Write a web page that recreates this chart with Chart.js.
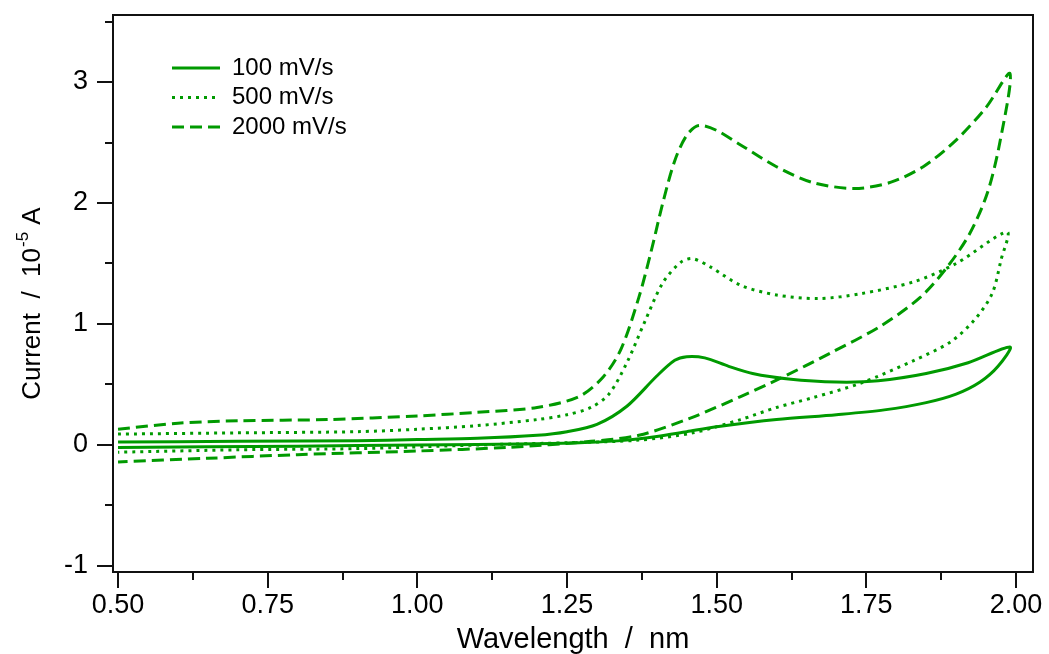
<!DOCTYPE html>
<html>
<head>
<meta charset="utf-8">
<script src="https://cdn.jsdelivr.net/npm/chart.js@4.4.0/dist/chart.umd.min.js"></script>
<style>
  html, body { margin: 0; padding: 0; background: #fff; }
</style>
</head>
<body>
<canvas id="cv" width="1049" height="654"></canvas>
<script>
// series: each loop goes forward 0.5 -> 2.0 then back to 0.5
const seriesLabels = ['100 mV/s', '500 mV/s', '2000 mV/s'];

const x100 = [0.50, 0.70, 0.90, 1.00, 1.10, 1.20, 1.25, 1.30, 1.35, 1.40, 1.43, 1.45, 1.48, 1.52, 1.56, 1.62, 1.70, 1.77, 1.85, 1.92, 1.99,
              1.97, 1.94, 1.90, 1.85, 1.78, 1.70, 1.60, 1.50, 1.45, 1.40, 1.35, 1.28, 1.20, 1.00, 0.80, 0.50];
const y100 = [0.025, 0.03, 0.035, 0.045, 0.055, 0.08, 0.11, 0.17, 0.32, 0.57, 0.70, 0.73, 0.72, 0.65, 0.59, 0.545, 0.52, 0.53, 0.59, 0.68, 0.81,
              0.65, 0.52, 0.42, 0.35, 0.29, 0.25, 0.21, 0.15, 0.11, 0.07, 0.04, 0.02, 0.01, 0.0, -0.01, -0.02];

const x500 = [0.50, 0.70, 0.90, 1.00, 1.10, 1.20, 1.25, 1.29, 1.32, 1.35, 1.38, 1.41, 1.44, 1.46, 1.49, 1.54, 1.60, 1.67, 1.74, 1.83, 1.90, 1.985,
              1.975, 1.96, 1.93, 1.89, 1.83, 1.74, 1.66, 1.60, 1.54, 1.46, 1.37, 1.26, 1.10, 0.90, 0.70, 0.50];
const y500 = [0.09, 0.10, 0.11, 0.13, 0.16, 0.21, 0.25, 0.31, 0.42, 0.68, 1.02, 1.34, 1.51, 1.54, 1.47, 1.32, 1.24, 1.21, 1.25, 1.35, 1.50, 1.76,
              1.53, 1.25, 1.03, 0.85, 0.70, 0.51, 0.39, 0.31, 0.21, 0.10, 0.04, 0.02, 0.0, -0.03, -0.04, -0.06];

const x2000 = [0.50, 0.60, 0.70, 0.85, 1.00, 1.10, 1.20, 1.27, 1.31, 1.34, 1.37, 1.39, 1.41, 1.43, 1.45, 1.47, 1.50, 1.54, 1.60, 1.66, 1.73, 1.79, 1.845, 1.90, 1.95, 1.99,
               1.973, 1.952, 1.923, 1.885, 1.84, 1.773, 1.69, 1.606, 1.54, 1.455, 1.37, 1.29, 1.15, 1.00, 0.80, 0.65, 0.50];
const y2000 = [0.13, 0.18, 0.20, 0.21, 0.24, 0.27, 0.31, 0.40, 0.56, 0.79, 1.22, 1.59, 2.00, 2.35, 2.56, 2.64, 2.60, 2.48, 2.30, 2.17, 2.12, 2.17, 2.30, 2.52, 2.79, 3.07,
               2.50, 2.08, 1.75, 1.47, 1.22, 0.98, 0.76, 0.55, 0.40, 0.22, 0.08, 0.03, -0.02, -0.05, -0.08, -0.11, -0.14];

const xTickValues = [0.50, 0.75, 1.00, 1.25, 1.50, 1.75, 2.00];
const xTickLabels = ['0.50', '0.75', '1.00', '1.25', '1.50', '1.75', '2.00'];
const yTickValues = [-1, 0, 1, 2, 3];
const yTickLabels = ['-1', '0', '1', '2', '3'];

const GREEN = '#009a00';
const FONT = '"Liberation Sans", Arial, Helvetica, sans-serif';

function pts(xs, ys) {
    return xs.map((x, i) => ({ x: x, y: ys[i] }));
}

// no extra room for overhanging labels, the box is placed by layout padding
function noPad(s) {
    s.paddingTop = 0; s.paddingBottom = 0; s.paddingLeft = 0; s.paddingRight = 0;
}

// frame, major/minor tick marks, y title with superscript, legend
const decor = {
    id: 'decor',
    afterDraw(chart) {
        const ctx = chart.ctx;
        const a = chart.chartArea;
        const xs = chart.scales.x, ys = chart.scales.y;
        ctx.save();
        ctx.strokeStyle = '#111';
        ctx.lineWidth = 2;
        ctx.setLineDash([]);
        ctx.strokeRect(a.left, a.top, a.right - a.left, a.bottom - a.top);

        ctx.beginPath();
        xTickValues.forEach(v => {
            const p = Math.round(xs.getPixelForValue(v));
            ctx.moveTo(p, a.bottom); ctx.lineTo(p, a.bottom + 16);
        });
        xTickValues.slice(0, -1).forEach(v => {
            const p = Math.round(xs.getPixelForValue(v + 0.125));
            ctx.moveTo(p, a.bottom); ctx.lineTo(p, a.bottom + 8);
        });
        yTickValues.forEach(v => {
            const p = Math.round(ys.getPixelForValue(v));
            ctx.moveTo(a.left, p); ctx.lineTo(a.left - 16, p);
            const q = Math.round(ys.getPixelForValue(v + 0.5));
            ctx.moveTo(a.left, q); ctx.lineTo(a.left - 8, q);
        });
        ctx.stroke();

        // y axis title
        ctx.fillStyle = '#000';
        ctx.translate(33, 304);
        ctx.rotate(-Math.PI / 2);
        ctx.textBaseline = 'middle';
        ctx.textAlign = 'left';
        const mainTxt = 'Current  /  10', supTxt = '-5', tailTxt = ' A';
        ctx.font = '26px ' + FONT;
        const w1 = ctx.measureText(mainTxt).width;
        const w3 = ctx.measureText(tailTxt).width;
        ctx.font = '17px ' + FONT;
        const w2 = ctx.measureText(supTxt).width;
        let x0 = -(w1 + w2 + w3) / 2;
        ctx.font = '26px ' + FONT;
        ctx.fillText(mainTxt, x0, 0);
        ctx.font = '17px ' + FONT;
        ctx.fillText(supTxt, x0 + w1 + 1, -10);
        ctx.font = '26px ' + FONT;
        ctx.fillText(tailTxt, x0 + w1 + w2 + 1, 0);
        ctx.restore();

        // legend
        ctx.save();
        ctx.font = '24px ' + FONT;
        ctx.textBaseline = 'middle';
        ctx.fillStyle = '#000';
        chart.data.datasets.forEach((ds, i) => {
            const y = 68 + i * 29.5;
            ctx.strokeStyle = ds.borderColor;
            ctx.lineWidth = ds.borderWidth;
            ctx.setLineDash(ds.borderDash || []);
            ctx.beginPath();
            ctx.moveTo(172, y); ctx.lineTo(220, y);
            ctx.stroke();
            ctx.fillText(ds.label, 232, y);
        });
        ctx.restore();
    }
};

new Chart(document.getElementById('cv').getContext('2d'), {
    type: 'scatter',
    data: {
        datasets: [
            { label: seriesLabels[0], data: pts(x100, y100), borderDash: [] },
            { label: seriesLabels[1], data: pts(x500, y500), borderDash: [3, 5] },
            { label: seriesLabels[2], data: pts(x2000, y2000), borderDash: [12, 6] }
        ].map(d => Object.assign(d, {
            showLine: true,
            borderColor: GREEN,
            backgroundColor: GREEN,
            borderWidth: 3,
            pointRadius: 0,
            tension: 0.3,
            fill: false
        }))
    },
    options: {
        responsive: false,
        animation: false,
        layout: { padding: { top: 15, right: 16, left: 0, bottom: 0 } },
        plugins: { legend: { display: false }, tooltip: { enabled: false } },
        scales: {
            x: {
                type: 'linear',
                min: 0.4916,
                max: 2.0284,
                afterFit(s) { s.height = 82; noPad(s); },
                afterBuildTicks(s) { s.ticks = xTickValues.map(v => ({ value: v })); },
                grid: { display: false, drawTicks: false },
                border: { display: false },
                ticks: {
                    padding: 17, color: '#000', autoSkip: false, maxRotation: 0,
                    font: { family: FONT, size: 27 },
                    callback: (v, i) => xTickLabels[i]
                },
                title: {
                    display: true, text: 'Wavelength  /  nm', color: '#000',
                    font: { family: FONT, size: 29, lineHeight: 1 },
                    padding: { top: 0, bottom: 0 }
                }
            },
            y: {
                type: 'linear',
                min: -1.05,
                max: 3.554,
                afterFit(s) { s.width = 113; noPad(s); },
                afterBuildTicks(s) { s.ticks = yTickValues.map(v => ({ value: v })); },
                grid: { display: false, drawTicks: false },
                border: { display: false },
                ticks: {
                    padding: 25, color: '#000', autoSkip: false,
                    font: { family: FONT, size: 27 },
                    callback: (v, i) => yTickLabels[i]
                }
            }
        }
    },
    plugins: [decor]
});
</script>
</body>
</html>
